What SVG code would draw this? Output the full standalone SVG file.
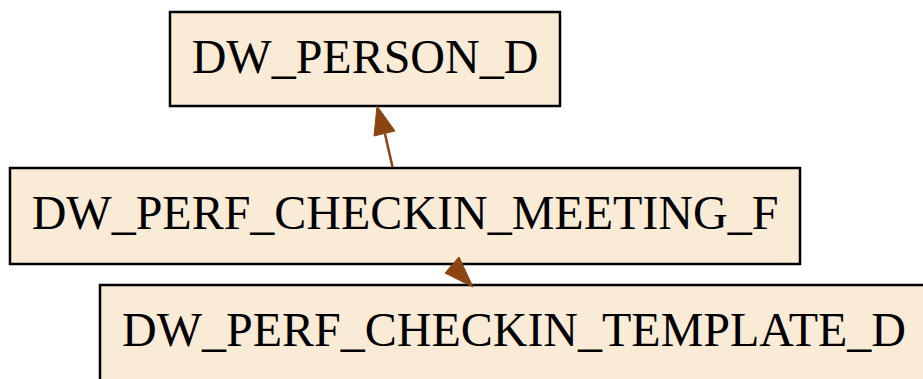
<svg xmlns="http://www.w3.org/2000/svg" width="923" height="379" viewBox="0 0 923 379">
<style>
.node rect{fill:#FAEBD7;stroke:#000;stroke-width:2.5}
.node text{font-family:"Liberation Serif","Times New Roman",serif;font-size:48px;fill:#000}
.edge line{stroke:#8B4513;stroke-width:2.5}
.edge polygon{fill:#8B4513;stroke:#8B4513;stroke-width:1}
</style>
<rect width="923" height="379" fill="#fff"/>
<g id="DW_PERSON_D" class="node">
<rect x="170" y="12" width="390" height="94"/>
<text x="365" y="73" text-anchor="middle">DW_PERSON_D</text>
</g>
<g id="DW_PERF_CHECKIN_MEETING_F" class="node">
<rect x="10" y="168" width="790" height="96"/>
<text x="405" y="229" text-anchor="middle">DW_PERF_CHECKIN_MEETING_F</text>
</g>
<g id="DW_PERF_CHECKIN_TEMPLATE_D" class="node">
<rect x="100" y="285" width="840" height="110"/>
<text x="122" y="346">DW_PERF_CHECKIN_TEMPLATE_D</text>
</g>
<g id="connectors" class="edge">
<line x1="392.5" y1="167" x2="385" y2="134"/>
<polygon points="377,106 374,136 395,131"/>
<polygon points="459,257 445,273 473,287"/>
</g>
</svg>
